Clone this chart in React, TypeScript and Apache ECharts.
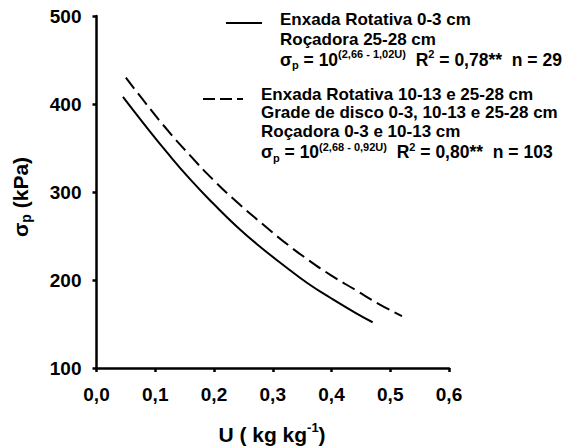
import React, { useEffect, useRef } from "react";
import * as echarts from "echarts";

// Values
const solidU = [0.045, 0.08, 0.12, 0.16, 0.2, 0.24, 0.28, 0.32, 0.36, 0.4, 0.44, 0.47];
const solidSigma = [408, 378, 345, 314, 286, 260, 237, 216, 196, 179, 163, 152];
const dashedU = [0.05, 0.08, 0.12, 0.16, 0.2, 0.24, 0.28, 0.32, 0.36, 0.4, 0.44, 0.48, 0.52];
const dashedSigma = [430, 404, 371, 341, 313, 288, 265, 243, 223, 205, 189, 173, 159];

const solidLegendLines = ["Enxada Rotativa 0-3 cm", "Roçadora 25-28 cm"];
const solidEquation = { exponent: "(2,66 - 1,02U)", r2: "0,78**", n: "29" };
const dashedLegendLines = [
  "Enxada Rotativa 10-13 e 25-28 cm",
  "Grade de disco 0-3, 10-13 e 25-28 cm",
  "Roçadora 0-3 e 10-13 cm",
];
const dashedEquation = { exponent: "(2,68 - 0,92U)", r2: "0,80**", n: "103" };

const FONT = "Arial, 'Liberation Sans', sans-serif";

const eqRich = (size: number) => ({
  m: { fontSize: size, fontWeight: "bold", fontFamily: FONT, color: "#000", lineHeight: 22 },
  u: { fontSize: 11, fontWeight: "bold", fontFamily: FONT, color: "#000", lineHeight: 15, verticalAlign: "top" },
  s: { fontSize: 11, fontWeight: "bold", fontFamily: FONT, color: "#000", lineHeight: 16, verticalAlign: "bottom" },
});

const eqText = (e: { exponent: string; r2: string; n: string }) =>
  `{m|σ}{s|p}{m| = 10}{u|${e.exponent}}{m|  R}{u|2}{m| = ${e.r2}  n = ${e.n}}`;

export default function App() {
  const ref = useRef<HTMLDivElement>(null);
  useEffect(() => {
    if (!ref.current) return;
    const chart = echarts.init(ref.current, null, { renderer: "svg" });
    const LF = 17;
    const EF = 17.5;
    const legendText = (x: number, y: number, t: string) => ({
      type: "text",
      x,
      y,
      style: { text: t, fontSize: LF, fontWeight: "bold", fontFamily: FONT, fill: "#000", align: "left", verticalAlign: "middle" },
    });
    const graphics: any[] = [
      // solid legend
      { type: "line", shape: { x1: 226, y1: 23, x2: 262, y2: 23 }, style: { stroke: "#000", lineWidth: 2 } },
      legendText(280, 19, solidLegendLines[0]),
      legendText(280, 39.5, solidLegendLines[1]),
      {
        type: "text",
        x: 280,
        y: 59.5,
        style: { text: eqText(solidEquation), rich: eqRich(EF), align: "left", verticalAlign: "middle" },
      },
      // dashed legend
      { type: "line", shape: { x1: 203, y1: 99, x2: 243, y2: 99 }, style: { stroke: "#000", lineWidth: 2, lineDash: [12, 5] } },
      legendText(261, 94.5, dashedLegendLines[0]),
      legendText(261, 112.8, dashedLegendLines[1]),
      legendText(261, 131, dashedLegendLines[2]),
      {
        type: "text",
        x: 261,
        y: 152,
        style: { text: eqText(dashedEquation), rich: eqRich(EF), align: "left", verticalAlign: "middle" },
      },
      // x axis name
      {
        type: "text",
        x: 272,
        y: 434,
        style: {
          text: "{m|U ( kg kg}{u|-1}{m|)}",
          align: "center",
          verticalAlign: "middle",
          rich: {
            m: { fontSize: 21, fontWeight: "bold", fontFamily: FONT, color: "#000", lineHeight: 26 },
            u: { fontSize: 13, fontWeight: "bold", fontFamily: FONT, color: "#000", lineHeight: 16, verticalAlign: "top" },
          },
        },
      },
      // y axis name
      {
        type: "text",
        x: 20,
        y: 197,
        rotation: Math.PI / 2,
        style: {
          text: "{m|σ}{s|p}{m| (kPa)}",
          align: "center",
          verticalAlign: "middle",
          rich: {
            m: { fontSize: 21, fontWeight: "bold", fontFamily: FONT, color: "#000", lineHeight: 26 },
            s: { fontSize: 14, fontWeight: "bold", fontFamily: FONT, color: "#000", lineHeight: 18, verticalAlign: "bottom" },
          },
        },
      },
    ];

    chart.setOption({
      animation: false,
      backgroundColor: "#fff",
      grid: { left: 96.5, right: 116, top: 16, bottom: 80, containLabel: false },
      xAxis: {
        type: "value",
        min: 0,
        max: 0.6,
        interval: 0.1,
        splitLine: { show: false },
        axisLine: { onZero: false, lineStyle: { color: "#000", width: 2.5 } },
        axisTick: { show: true, inside: false, length: 4, lineStyle: { color: "#000", width: 2.5 } },
        axisLabel: {
          margin: 17,
          fontSize: 19,
          fontWeight: "bold",
          fontFamily: FONT,
          color: "#000",
          formatter: (v: number) => v.toFixed(1).replace(".", ","),
        },
      },
      yAxis: {
        type: "value",
        min: 100,
        max: 500,
        interval: 100,
        splitLine: { show: false },
        axisLine: { show: true, onZero: false, lineStyle: { color: "#000", width: 2.5 } },
        axisTick: { show: true, inside: false, length: 4, lineStyle: { color: "#000", width: 2.5 } },
        axisLabel: { margin: 15, fontSize: 19, fontWeight: "bold", fontFamily: FONT, color: "#000" },
      },
      series: [
        {
          type: "line",
          data: solidU.map((u, i) => [u, solidSigma[i]]),
          smooth: true,
          showSymbol: false,
          lineStyle: { color: "#000", width: 2, type: "solid" },
        },
        {
          type: "line",
          data: dashedU.map((u, i) => [u, dashedSigma[i]]),
          smooth: true,
          showSymbol: false,
          lineStyle: { color: "#000", width: 2, type: [14, 6] },
        },
      ],
      graphic: graphics,
    });
    return () => chart.dispose();
  }, []);
  return <div ref={ref} style={{ position: "fixed", left: 0, top: 0, width: 565, height: 448 }} />;
}
